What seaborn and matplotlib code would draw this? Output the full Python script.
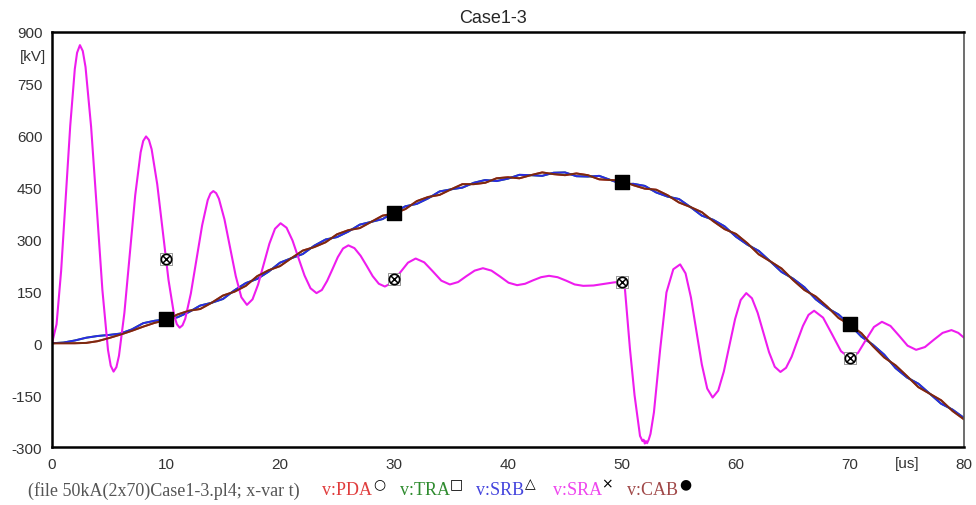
import matplotlib
matplotlib.use("Agg")
import matplotlib.pyplot as plt
import seaborn as sns

# time axis of the smooth curves [us]
t_main = list(range(0, 81))

# v:CAB (brown) and v:SRB (blue) [kV]
v_cab = [0, 0, 0, 1, 6, 15, 25, 36, 48, 59, 67,
         83, 94, 99, 117, 138, 149, 166, 194, 211, 223,
         246, 268, 278, 292, 315, 327, 333, 351, 369, 375,
         388, 411, 423, 429, 445, 460, 460, 464, 477, 480,
         477, 486, 494, 489, 486, 491, 486, 474, 472, 470,
         457, 447, 444, 428, 407, 394, 379, 353, 330, 316,
         289, 257, 237, 216, 183, 154, 135, 106, 73, 53,
         29, -8, -41, -64, -95, -127, -146, -165, -196, -220]
v_srb = [0, 2, 8, 16, 21, 24, 28, 40, 58, 65, 69,
         75, 90, 109, 117, 128, 153, 174, 186, 207, 233,
         246, 258, 282, 300, 307, 323, 343, 351, 359, 379,
         396, 403, 419, 439, 445, 450, 464, 472, 469, 476,
         487, 486, 484, 493, 494, 483, 482, 484, 472, 460,
         461, 455, 436, 424, 417, 394, 369, 357, 338, 308,
         285, 267, 237, 206, 187, 162, 127, 102, 83, 53,
         19, -4, -33, -72, -99, -117, -146, -175, -192, -216]
# v:PDA and v:TRA lie under the other two
v_pda = v_cab
v_tra = v_srb

# v:SRA (magenta)
t_sra = [0, 0.4, 0.8, 1.2, 1.6, 2.0, 2.2, 2.45, 2.7,
         2.94, 3.43, 3.93, 4.42, 4.91, 5.15, 5.4, 5.65,
         5.875, 6.35, 6.825, 7.3, 7.775, 8.0, 8.25, 8.5,
         8.74, 9.23, 9.725, 10.22, 10.71, 10.95, 11.2, 11.45,
         11.69, 12.18, 12.675, 13.17, 13.66, 13.9, 14.15, 14.4,
         14.64, 15.13, 15.625, 16.12, 16.61, 17.1,
         17.59, 18.08, 18.575, 19.07, 19.56, 20.05,
         20.575, 21.1, 21.625, 22.15, 22.675, 23.2,
         23.67, 24.13, 24.6, 25.07, 25.53, 26.0,
         26.53, 27.07, 27.6, 28.13, 28.67, 29.2,
         29.875, 30.55, 31.225, 31.9,
         32.65, 33.4, 34.15, 34.9,
         35.625, 36.35, 37.075, 37.8,
         38.55, 39.3, 40.05, 40.8,
         41.5, 42.2, 42.9, 43.6,
         44.35, 45.1, 45.85, 46.6,
         47.5, 48.5, 49.3, 50.0,
         50.26, 50.7, 51.1, 51.58, 51.8, 51.9, 52.0, 52.1, 52.2, 52.35,
         52.5, 52.8, 53.1, 53.35, 53.9, 54.5, 55.1,
         55.575, 56.05, 56.525, 57.0, 57.475, 57.95,
         58.44, 58.93, 59.425, 59.92, 60.41, 60.9,
         61.4, 61.9, 62.4, 62.9, 63.4, 63.9,
         64.39, 64.88, 65.375, 65.87, 66.36, 66.85,
         67.64, 68.425, 69.21, 70.0,
         70.7, 71.4, 72.1, 72.8,
         73.55, 74.3, 75.05, 75.8,
         76.575, 77.35, 78.125, 78.9,
         79.5, 80]
v_sra = [0, 55, 209, 418, 629, 793, 840, 862, 845,
         799, 626, 390, 154, -19, -65, -82, -69,
         -36, 88, 258, 428, 552, 585, 598, 588,
         561, 460, 322, 183, 82, 55, 45, 52,
         71, 144, 242, 341, 414, 433, 440, 434,
         418, 358, 276, 194, 133, 111,
         127, 170, 229, 288, 331, 347,
         334, 297, 246, 196, 159, 145,
         154, 180, 214, 249, 274, 283,
         275, 253, 224, 194, 172, 164,
         176, 205, 233, 245,
         234, 208, 181, 170,
         177, 194, 210, 217,
         210, 193, 175, 168,
         172, 182, 191, 195,
         191, 181, 170, 166,
         167, 172, 176, 178,
         156, -17, -150, -268, -283, -279, -290, -283, -289, -278,
         -262, -200, -100, -17, 147, 214, 228,
         202, 132, 36, -61, -131, -157,
         -137, -82, -6, 70, 125, 145,
         130, 88, 31, -26, -68, -83,
         -71, -39, 6, 50, 82, 94,
         74, 26, -23, -43,
         -28, 10, 47, 62,
         50, 22, -7, -19,
         -11, 10, 30, 38,
         30, 16]

# marker positions
t_marks = [10, 30, 50, 70]
v_marks_main = [69, 378, 465, 55]
v_marks_sra = [243, 187, 178, -43]

x_ticks = [0, 10, 20, 30, 40, 50, 60, 70, 80]
y_ticks = [-300, -150, 0, 150, 300, 450, 600, 750, 900]

sns.set_style("white")
plt.rcParams["font.family"] = ["Liberation Sans", "DejaVu Sans"]
plt.rcParams["axes.unicode_minus"] = False

fig = plt.figure(figsize=(9.76, 5.06), dpi=100)
ax = fig.add_axes([52 / 976, 1 - 448 / 506, 912 / 976, 415 / 506])

c_pda = "#e03c3c"
c_tra = "#2e8b2e"
c_srb = "#2a2ae6"
c_sra = "#ee1cee"
c_cab = "#7a2a10"

sns.lineplot(x=t_main, y=v_pda, color=c_pda, linewidth=1.4, ax=ax)
sns.lineplot(x=t_main, y=v_tra, color=c_tra, linewidth=1.4, ax=ax)
sns.lineplot(x=t_main, y=v_srb, color=c_srb, linewidth=1.4, ax=ax)
sns.lineplot(x=t_sra, y=v_sra, color=c_sra, linewidth=1.5, ax=ax)
sns.lineplot(x=t_main, y=v_cab, color=c_cab, linewidth=1.4, ax=ax)

# markers
ax.scatter(t_marks, v_marks_main, marker="s", s=90, color="black", zorder=5)
ax.scatter(t_marks, v_marks_sra, marker="s", s=80, facecolor="white",
           edgecolor="#888888", linewidth=0.6, zorder=5)
ax.scatter(t_marks, v_marks_sra, marker="o", s=55, facecolor="white",
           edgecolor="black", linewidth=1.2, zorder=6)
ax.scatter(t_marks, v_marks_sra, marker="x", s=30, color="black",
           linewidth=1.1, zorder=7)

ax.set_xlim(0, 80)
ax.set_ylim(-300, 900)
ax.set_xticks(x_ticks)
ax.set_yticks(y_ticks)
ax.set_xlabel("")
ax.set_ylabel("")
ax.tick_params(axis="both", direction="out", length=5, width=1.5, pad=2,
               labelsize=11, colors="black", labelcolor="#333333")
for side in ["left", "bottom", "top"]:
    ax.spines[side].set_color("black")
    ax.spines[side].set_linewidth(1.8)
ax.spines["right"].set_color("#555555")
ax.spines["right"].set_linewidth(1.2)

ax.text(75, -326, "[us]", ha="center", va="top", fontsize=11,
        color="#333333", clip_on=False)
ax.text(-1.7, 830, "[kV]", ha="center", va="center", fontsize=11,
        color="#333333", clip_on=False)

ax.set_title("Case1-3", fontsize=13, pad=7, x=0.484)

# legend line at the bottom
fy = 1 - 491 / 506
serif = ["Liberation Serif", "DejaVu Serif"]
fig.text(28 / 976, fy, "(file 50kA(2x70)Case1-3.pl4; x-var t)", fontsize=13,
         family=serif, color="#555555", va="center")
legend_items = [
    ("v:PDA", c_pda, "\u25cb", 322, 373),
    ("v:TRA", "#2e8b2e", "\u25a1", 400, 450),
    ("v:SRB", "#4444dd", "\u25b3", 476, 525),
    ("v:SRA", "#ee44ee", "\u00d7", 553, 601),
    ("v:CAB", "#a04848", "\u25cf", 627, 679),
]
for label, col, sym, x_lab, x_sym in legend_items:
    fig.text(x_lab / 976, fy, label, fontsize=13, family=serif, color=col,
             va="center")
    fig.text(x_sym / 976, fy + 0.013, sym, fontsize=10,
             family=["DejaVu Sans"], color="black", va="center")

fig.savefig("out.png", dpi=100)
